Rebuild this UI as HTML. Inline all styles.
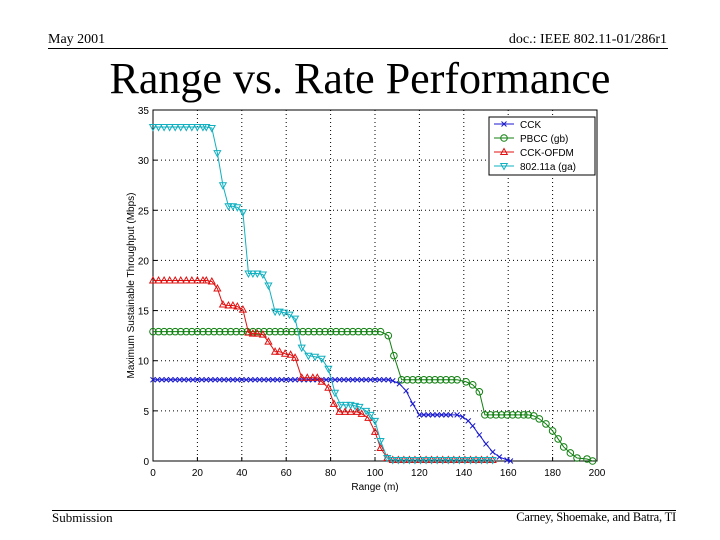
<!DOCTYPE html>
<html><head><meta charset="utf-8"><style>
body{margin:0;background:#fff;}
#page{position:relative;width:720px;height:540px;overflow:hidden;background:#fff;font-family:"Liberation Serif",serif;}
.t{position:absolute;white-space:nowrap;color:#000;}
</style></head><body>
<div id="page">
<div class="t" style="left:48px;top:32px;font-size:14px;">May 2001</div>
<div class="t" style="right:53px;top:32px;font-size:14px;">doc.: IEEE 802.11-01/286r1</div>
<div style="position:absolute;left:48px;top:48px;width:620px;height:1px;background:#000;"></div>
<div class="t" style="left:0;width:720px;text-align:center;top:53px;font-size:44px;">Range vs. Rate Performance</div>
<div style="position:absolute;left:52px;top:510px;width:624px;height:1px;background:#000;"></div>
<div class="t" style="left:52px;top:510px;font-size:13px;">Submission</div>
<div class="t" style="right:44px;top:510px;font-size:12.5px;letter-spacing:-0.2px;">Carney, Shoemake, and Batra, TI</div>
<svg id="chart" width="720" height="540" style="position:absolute;left:0;top:0" font-family="Liberation Sans, sans-serif"></svg>
</div>
<script>
const xTicks=[0,20,40,60,80,100,120,140,160,180,200];
const yTicks=[0,5,10,15,20,25,30,35];
const seriesNames=["CCK","PBCC (gb)","CCK-OFDM","802.11a (ga)"];
const cckX=[0,2,4,6,8,10,12,14,16,18,20,22,24,26,28,30,32,34,36,38,40,42,44,46,48,50,52,54,56,58,60,62,64,66,68,70,72,74,76,78,80,82,84,86,88,90,92,94,96,98,100,102,104,106,108,111,114,117,120,122,124,126,128,130,132,134,137,139.5,142,144,147,150,153,156,159.5,161];
const cckY=[8.1,8.1,8.1,8.1,8.1,8.1,8.1,8.1,8.1,8.1,8.1,8.1,8.1,8.1,8.1,8.1,8.1,8.1,8.1,8.1,8.1,8.1,8.1,8.1,8.1,8.1,8.1,8.1,8.1,8.1,8.1,8.1,8.1,8.1,8.1,8.1,8.1,8.1,8.1,8.1,8.1,8.1,8.1,8.1,8.1,8.1,8.1,8.1,8.1,8.1,8.1,8.1,8.1,8.1,8.0,7.7,7.0,5.7,4.6,4.6,4.6,4.6,4.6,4.6,4.6,4.6,4.6,4.4,4.0,3.5,2.6,1.7,0.9,0.4,0.1,0.0];
const pbccX=[0,2.5,5,7.5,10,12.5,15,17.5,20,22.5,25,27.5,30,32.5,35,37.5,40,42.5,45,47.5,50,52.5,55,57.5,60,62.5,65,67.5,70,72.5,75,77.5,80,82.5,85,87.5,90,92.5,95,97.5,100,102.5,106,108.5,112,114.5,117,119.5,122,124.5,127,129.5,132,134.5,137,141,144,147,149.5,152,154.5,157,159.5,162,164.5,167,169,171.5,174,177,180,182.5,185,188,191,195.5,198];
const pbccY=[12.9,12.9,12.9,12.9,12.9,12.9,12.9,12.9,12.9,12.9,12.9,12.9,12.9,12.9,12.9,12.9,12.9,12.9,12.9,12.9,12.9,12.9,12.9,12.9,12.9,12.9,12.9,12.9,12.9,12.9,12.9,12.9,12.9,12.9,12.9,12.9,12.9,12.9,12.9,12.9,12.9,12.9,12.5,10.5,8.1,8.1,8.1,8.1,8.1,8.1,8.1,8.1,8.1,8.1,8.1,7.9,7.6,6.9,4.6,4.6,4.6,4.6,4.6,4.6,4.6,4.6,4.6,4.5,4.2,3.7,3.0,2.2,1.4,0.8,0.3,0.2,0.0];
const ofdmX=[0,2.5,5,7.5,10,12.5,15,17.5,20,22.5,24,26.5,29,31.5,34,36,38,40.5,43,45,47,49.5,52,55,57,59.5,62,64,67,69.5,72,74,76,79,81.5,84,86.5,89,92,94,97,100,102.5,105.5,108,110.5,113,115.5,118,120.5,123,125.5,128,130.5,133,135.5,138,140.5,143,145.5,148,150.5,153];
const ofdmY=[18.0,18.0,18.0,18.0,18.0,18.0,18.0,18.0,18.0,18.0,18.0,17.9,17.2,15.6,15.5,15.5,15.4,15.1,12.8,12.7,12.7,12.6,11.9,10.9,10.9,10.7,10.6,10.3,8.3,8.3,8.3,8.3,7.9,7.3,5.7,4.9,4.9,4.9,4.9,4.7,4.3,2.9,1.3,0.3,0.1,0.1,0.1,0.1,0.1,0.1,0.1,0.1,0.1,0.1,0.1,0.1,0.1,0.1,0.1,0.1,0.1,0.1,0.1];
const aX=[0,2.5,5,7.5,10,12.5,15,17.5,20,22.5,24,26.5,29,31.5,34,36,38,40.5,43,45,47,49.5,52,55,57,59,61.5,64,67,70,73,76,79,82,84.5,87,89,91,93,96,98,100,102.5,105.5,108,110.5,113,115.5,118,120.5,123,125.5,128,130.5,133,135.5,138,140.5,143,145.5,148,150.5,153];
const aY=[33.3,33.3,33.3,33.3,33.3,33.3,33.3,33.3,33.3,33.3,33.3,33.2,30.7,27.5,25.4,25.4,25.3,24.8,18.7,18.7,18.7,18.6,17.5,14.9,14.9,14.8,14.6,14.2,11.3,10.5,10.4,10.2,9.2,6.8,5.6,5.6,5.6,5.5,5.4,5.0,4.6,4.0,2.0,0.3,0.1,0.1,0.1,0.1,0.1,0.1,0.1,0.1,0.1,0.1,0.1,0.1,0.1,0.1,0.1,0.1,0.1,0.1,0.1];

const svg=document.getElementById('chart');
const NS='http://www.w3.org/2000/svg';
const L=153,R=597,T=110,B=461;
const sx=v=>L+(v-0)/(200-0)*(R-L);
const sy=v=>B-(v-0)/(35-0)*(B-T);
function mk(tag,a,parent){const e=document.createElementNS(NS,tag);for(const k in a)e.setAttribute(k,a[k]);(parent||svg).appendChild(e);return e;}

const grid=mk('g',{});


xTicks.forEach(v=>{
  if(v>0&&v<200){const g=mk('line',{x1:sx(v),x2:sx(v),y1:T,y2:B,stroke:'#000','stroke-width':1,'stroke-dasharray':'1,3'},grid);
  
  }
  const t=mk('text',{x:sx(v),y:B+15,'font-size':10,'text-anchor':'middle'});
  t.textContent=v;
  
  
  mk('line',{x1:sx(v),x2:sx(v),y1:B,y2:B-4,stroke:'#000'});
});
yTicks.forEach(v=>{
  if(v>0&&v<35){const g=mk('line',{x1:L,x2:R,y1:sy(v),y2:sy(v),stroke:'#000','stroke-width':1,'stroke-dasharray':'1,3'},grid);
  
  }
  const t=mk('text',{x:L-4,y:sy(v)+4,'font-size':10,'text-anchor':'end'});
  t.textContent=v;
  
  
  mk('line',{x1:L,x2:L+4,y1:sy(v),y2:sy(v),stroke:'#000'});
});
const frame=mk('rect',{x:L,y:T,width:R-L,height:B-T,fill:'none',stroke:'#000','stroke-width':1});


const xt=mk('text',{x:(L+R)/2,y:490,'font-size':10,'text-anchor':'middle'});
xt.textContent='Range (m)';


const yt=mk('text',{x:0,y:0,'font-size':10,'text-anchor':'middle',transform:`translate(134,${(T+B)/2}) rotate(-90)`});
yt.textContent='Maximum Sustainable Throughput (Mbps)';



function marker(type,x,y,c,parent){
  if(type==='x'){const p=mk('path',{d:`M${x-2.5},${y-2.5}L${x+2.5},${y+2.5}M${x-2.5},${y+2.5}L${x+2.5},${y-2.5}`,stroke:c,fill:'none'},parent);return p;}
  if(type==='o')return mk('circle',{cx:x,cy:y,r:3.3,stroke:c,fill:'none'},parent);
  if(type==='^')return mk('path',{d:`M${x},${y-3.5}L${x+3.3},${y+2.5}L${x-3.3},${y+2.5}Z`,stroke:c,fill:'none'},parent);
  return mk('path',{d:`M${x},${y+3.5}L${x+3.3},${y-2.5}L${x-3.3},${y-2.5}Z`,stroke:c,fill:'none'},parent);
}
const series=[[cckX,cckY,'#1a1ad0','x','series-cck'],[pbccX,pbccY,'#108010','o','series-pbcc'],[ofdmX,ofdmY,'#e01010','^','series-cck-ofdm'],[aX,aY,'#10b0c0','v','series-802-11a']];
series.forEach(([xs,ys,c,m,name])=>{
  const g=mk('g',{});
  
  
  const pl=mk('polyline',{points:xs.map((x,i)=>sx(x)+','+sy(ys[i])).join(' '),fill:'none',stroke:c,'stroke-width':1},g);
  
  
  xs.forEach((x,i)=>{const e=marker(m,sx(x),sy(ys[i]),c,g);
    
    });
});
const lg=mk('g',{});


mk('rect',{x:489,y:117,width:106,height:58,fill:'#fff',stroke:'#000'},lg);
series.forEach(([xs,ys,c,m],i)=>{
  const y=124+i*14;
  const e=mk('g',{},lg);
  
  
  mk('line',{x1:494,x2:514,y1:y,y2:y,stroke:c},e);
  marker(m,504,y,c,e);
  const t=mk('text',{x:520,y:y+4,'font-size':10},e);
  t.textContent=seriesNames[i];
});
</script>
</body></html>
